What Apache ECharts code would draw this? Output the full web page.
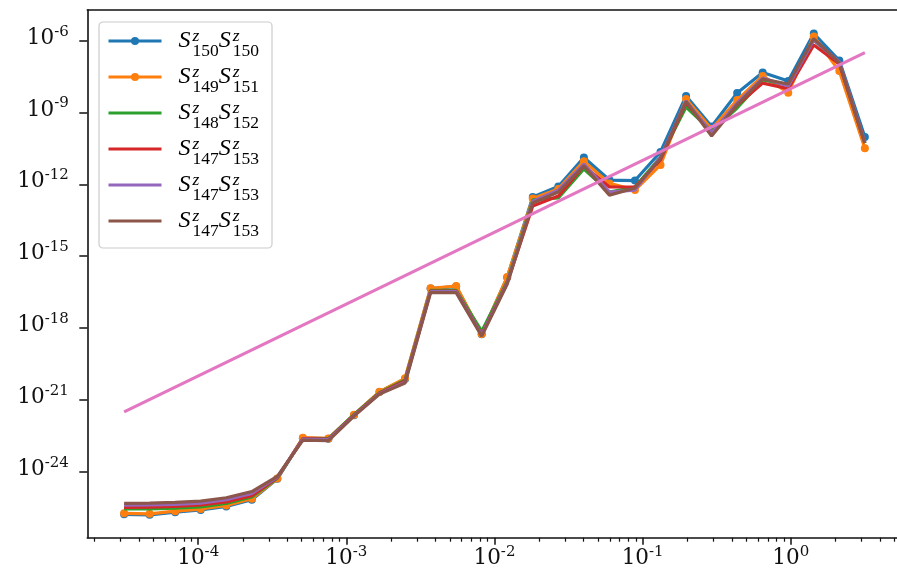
<!DOCTYPE html>
<html>
<head>
<meta charset="utf-8">
<script src="https://cdn.jsdelivr.net/npm/echarts@6/dist/echarts.min.js"></script>
<style>
html, body { margin: 0; padding: 0; background: #ffffff; overflow: hidden; }
/* the plot frame runs a few pixels past the right edge of the window */
#chart { width: 905px; height: 577px; }
</style>
</head>
<body>
<div id="chart"></div>
<script>
// Frequencies (x) shared by every correlation curve
const xValues = [3.162e-5, 4.703e-5, 6.995e-5, 1.040e-4, 1.547e-4, 2.301e-4, 3.422e-4, 5.090e-4,
  7.571e-4, 1.126e-3, 1.675e-3, 2.491e-3, 3.705e-3, 5.511e-3, 8.197e-3, 1.219e-2, 1.813e-2,
  2.697e-2, 4.012e-2, 5.967e-2, 8.876e-2, 0.1320, 0.1964, 0.2921, 0.4345, 0.6462, 0.9611,
  1.4296, 2.1264, 3.1623];

// Correlation amplitudes, stored as log10 of the value
const logS150S150 = [-25.78, -25.80, -25.69, -25.60, -25.45, -25.17, -24.30, -22.60, -22.62, -21.64,
  -20.67, -20.13, -16.35, -16.27, -18.26, -15.89, -12.53, -12.09, -10.88, -11.82, -11.84, -10.65,
  -8.31, -9.58, -8.18, -7.33, -7.68, -5.70, -6.83, -10.02];
const logS149S151 = [-25.74, -25.76, -25.65, -25.56, -25.41, -25.13, -24.28, -22.58, -22.61, -21.62,
  -20.66, -20.10, -16.34, -16.25, -18.25, -15.87, -12.59, -12.19, -11.03, -11.96, -12.24, -11.19,
  -8.44, -9.69, -8.48, -7.47, -8.17, -5.82, -7.27, -10.49];
const logS148S152 = [-25.55, -25.55, -25.52, -25.47, -25.33, -25.06, -24.27, -22.62, -22.62, -21.61,
  -20.70, -20.17, -16.43, -16.43, -18.13, -16.06, -12.65, -12.57, -11.36, -12.32, -12.11, -10.86,
  -8.77, -9.77, -8.81, -7.64, -7.85, -5.97, -6.93, -10.27];
const logS147S153a = [-25.49, -25.48, -25.45, -25.39, -25.26, -25.00, -24.25, -22.62, -22.64, -21.64,
  -20.72, -20.21, -16.46, -16.46, -18.27, -16.10, -12.90, -12.49, -11.23, -12.11, -12.11, -10.98,
  -8.60, -9.86, -8.69, -7.77, -8.00, -6.18, -6.97, -10.27];
const logS147S153b = [-25.40, -25.39, -25.37, -25.31, -25.17, -24.91, -24.23, -22.64, -22.66, -21.66,
  -20.74, -20.26, -16.48, -16.48, -18.29, -16.12, -12.70, -12.24, -11.15, -12.32, -12.24, -10.86,
  -8.52, -9.86, -8.60, -7.56, -7.89, -5.97, -6.89, -10.23];
const logS147S153c = [-25.32, -25.31, -25.28, -25.23, -25.09, -24.83, -24.20, -22.68, -22.70, -21.68,
  -20.76, -20.30, -16.52, -16.52, -18.34, -16.16, -12.78, -12.32, -11.23, -12.45, -12.15, -10.92,
  -8.54, -9.98, -8.67, -7.60, -7.81, -5.91, -6.93, -10.27];

// Reference power law (straight line in log-log): endpoints
const powerLawX = [3.162e-5, 3.162];
const powerLawY = [3.16e-22, 3.16e-7];

// Legend subscripts for each curve
const siteLeft = ['150', '149', '148', '147', '147', '147'];
const siteRight = ['150', '151', '152', '153', '153', '153'];
const seriesKeys = ['s150_150', 's149_151', 's148_152', 's147_153_a', 's147_153_b', 's147_153_c'];
const seriesColors = ['#1f77b4', '#ff7f0e', '#2ca02c', '#d62728', '#9467bd', '#8c564b'];
const seriesLogs = [logS150S150, logS149S151, logS148S152, logS147S153a, logS147S153b, logS147S153c];
const withMarkers = [true, true, false, false, false, false];

// Axis ticks
const xMajorTicks = [1e-4, 1e-3, 1e-2, 1e-1, 1];
const yMajorTicks = [1e-24, 1e-21, 1e-18, 1e-15, 1e-12, 1e-9, 1e-6];
const xMinorTicks = [];
for (let p = -5; p <= 0; p++) {
  for (let m = 2; m <= 9; m++) {
    const v = m * Math.pow(10, p);
    if (v < 5.7) xMinorTicks.push(v);
  }
}

const xMin = Math.pow(10, -4.7485);
const xMax = Math.pow(10, 0.75);
const yMin = Math.pow(10, -26.757);
const yMax = Math.pow(10, -4.718);

const powerLabel = function (v) {
  const e = Math.round(Math.log10(v));
  return '{b|10}{e|' + String(e) + '}';
};
const tickRich = {
  b: { fontFamily: 'DejaVu Serif', fontSize: 21.5, color: '#111', lineHeight: 21,
       padding: [0, 0, 5, 0], verticalAlign: 'middle' },
  e: { fontFamily: 'DejaVu Serif', fontSize: 15, color: '#111', lineHeight: 15,
       padding: [0, 0, 18, 0], verticalAlign: 'middle' }
};

const series = seriesKeys.map(function (key, i) {
  return {
    name: key,
    type: 'line',
    z: 2 + i,
    data: xValues.map(function (x, k) { return [x, Math.pow(10, seriesLogs[i][k])]; }),
    symbol: withMarkers[i] ? 'circle' : 'none',
    symbolSize: 8,
    showSymbol: withMarkers[i],
    color: seriesColors[i],
    lineStyle: { width: 3.2, color: seriesColors[i] },
    itemStyle: { color: seriesColors[i] },
    emphasis: { disabled: true },
    animation: false
  };
});
series.push({
  name: 'power law',
  type: 'line',
  z: 9,
  data: powerLawX.map(function (x, k) { return [x, powerLawY[k]]; }),
  symbol: 'none',
  color: '#e377c2',
  lineStyle: { width: 3.2, color: '#e377c2' },
  emphasis: { disabled: true },
  animation: false
});

const scriptFont = { fontFamily: 'Liberation Serif', fontSize: 17.5, color: '#000', verticalAlign: 'middle' };

const chart = echarts.init(document.getElementById('chart'), null, { renderer: 'canvas' });
chart.setOption({
  animation: false,
  backgroundColor: '#ffffff',
  grid: {
    left: 87.3, top: 10, right: 3.1, bottom: 39.3,
    outerBoundsMode: 'none',
    containLabel: false,
    show: false
  },
  legend: {
    data: seriesKeys.map(function (key, i) {
      return withMarkers[i] ? { name: key } : { name: key, itemStyle: { opacity: 0 } };
    }),
    orient: 'vertical',
    left: 99, top: 22,
    padding: [0, 13, 8, 8],
    itemWidth: 53, itemHeight: 10, itemGap: -2,
    backgroundColor: 'rgba(255,255,255,0.85)',
    borderColor: '#cccccc', borderWidth: 1.2, borderRadius: 4,
    lineStyle: { width: 3 },
    selectedMode: false,
    z: 20,
    formatter: function (name) {
      const i = seriesKeys.indexOf(name);
      return '{S0|S}{z|z}{n|' + siteLeft[i] + '}{S|S}{z|z}{n|' + siteRight[i] + '}';
    },
    textStyle: {
      color: '#000',
      rich: {
        S0: { fontFamily: 'Liberation Serif', fontStyle: 'italic', fontSize: 24, lineHeight: 30,
              padding: [0, 2, 0, 12], color: '#000', verticalAlign: 'middle' },
        S: { fontFamily: 'Liberation Serif', fontStyle: 'italic', fontSize: 24, lineHeight: 30,
             padding: [0, 2, 0, 0], color: '#000', verticalAlign: 'middle' },
        z: Object.assign({}, scriptFont, { fontStyle: 'italic', lineHeight: 10,
             padding: [0, 0, 9, 0], width: 0 }),
        n: Object.assign({}, scriptFont, { lineHeight: 10, padding: [20, 0, 0, 0] })
      }
    }
  },
  // keep the open right side of the frame clear
  graphic: [{
    type: 'rect', silent: true, z: 100,
    shape: { x: 889, y: 12, width: 16, height: 524 },
    style: { fill: '#ffffff' }
  }],
  xAxis: [
    {
      type: 'log', gridIndex: 0, position: 'bottom',
      min: xMin, max: xMax,
      axisLine: { show: true, lineStyle: { color: '#111', width: 1.6 } },
      axisTick: { show: true, length: 7, lineStyle: { color: '#111', width: 1.5 },
                  customValues: xMajorTicks },
      axisLabel: { show: true, margin: 12.6, formatter: powerLabel, rich: tickRich,
                   customValues: xMajorTicks },
      splitLine: { show: false },
      minorTick: { show: false }
    },
    {
      type: 'log', gridIndex: 0, position: 'bottom',
      min: xMin, max: xMax,
      axisLine: { show: false },
      axisTick: { show: true, length: 4, lineStyle: { color: '#111', width: 1.2 },
                  customValues: xMinorTicks },
      axisLabel: { show: false },
      splitLine: { show: false }
    },
    {
      // top spine of the frame
      type: 'log', gridIndex: 0, position: 'top',
      min: xMin, max: xMax,
      axisLine: { show: true, lineStyle: { color: '#111', width: 1.6 } },
      axisTick: { show: false },
      axisLabel: { show: false },
      splitLine: { show: false }
    }
  ],
  yAxis: {
    type: 'log', gridIndex: 0, position: 'left',
    min: yMin, max: yMax,
    axisLine: { show: true, lineStyle: { color: '#111', width: 1.6 } },
    axisTick: { show: true, length: 8, lineStyle: { color: '#111', width: 1.5 },
                customValues: yMajorTicks },
    axisLabel: { show: true, margin: 18.5, formatter: powerLabel, rich: tickRich,
                 customValues: yMajorTicks },
    splitLine: { show: false },
    minorTick: { show: false }
  },
  series: series
});
</script>
</body>
</html>
